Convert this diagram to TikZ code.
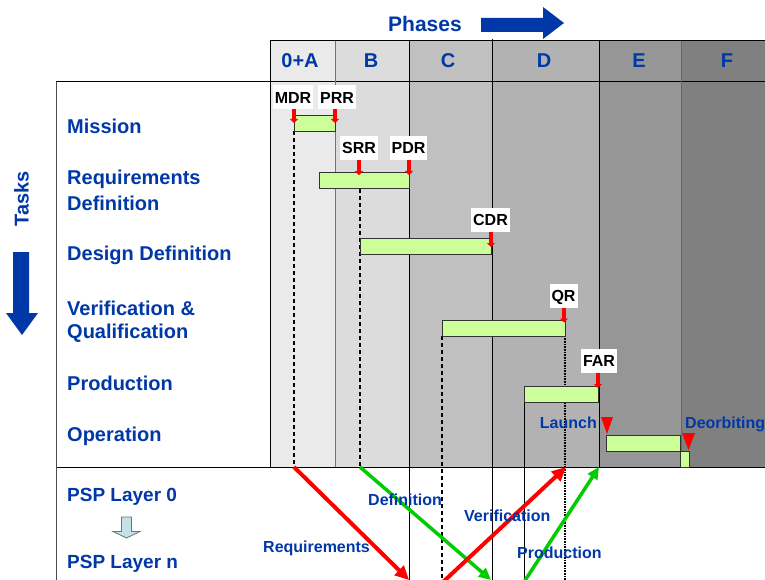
\documentclass[tikz,border=0pt]{standalone}
\usepackage{fontspec}
\setmainfont{Liberation Sans}
\usetikzlibrary{arrows.meta}
\definecolor{esablue}{HTML}{0038A8}
\definecolor{barfill}{HTML}{CCFF99}
\definecolor{flowgreen}{HTML}{00CC00}
\definecolor{pspblue}{HTML}{C2E2E6}
\definecolor{cA}{HTML}{EAEAEA}
\definecolor{cB}{HTML}{DCDCDC}
\definecolor{cC}{HTML}{C0C0C0}
\definecolor{cD}{HTML}{B2B2B2}
\definecolor{cE}{HTML}{969696}
\definecolor{cF}{HTML}{808080}
\begin{document}
\begin{tikzpicture}[x=1pt,y=-1pt,
  lbl/.style={text=esablue, font=\fontsize{20}{24}\selectfont\bfseries, inner sep=0pt, anchor=base west},
  psp/.style={text=esablue, font=\fontsize{19}{23}\selectfont\bfseries, inner sep=0pt, anchor=base west},
  small/.style={text=esablue, font=\fontsize{16}{19}\selectfont\bfseries, inner sep=0pt, anchor=base west},
  phase/.style={text=esablue, font=\fontsize{20}{24}\selectfont\bfseries, inner sep=0pt, anchor=base},
  mstone/.style={fill=white, font=\fontsize{16}{19}\selectfont\bfseries, inner xsep=2pt, inner ysep=0pt, minimum height=24pt, text height=11.5pt, text depth=0pt},
  msarrow/.style={red, line width=3.5pt, -{Triangle[length=4pt,width=8pt]}},
  bar/.style={fill=barfill, draw=black!80, line width=1pt, minimum height=16pt, inner sep=0pt, anchor=north west},
  vline/.style={black, line width=1pt},
  dline/.style={black, line width=1.3pt, dash pattern=on 4pt off 3pt},
  dotline/.style={black, line width=1.2pt, dash pattern=on 1pt off 0.6pt},
  redflow/.style={draw=red, line width=4pt, -{Triangle[length=14pt,width=13pt]}},
  greenflow/.style={draw=flowgreen, line width=3.5pt, -{Triangle[length=12pt,width=11pt]}},
  tri/.style={fill=red}
]
\useasboundingbox (0,0) rectangle (765,580);
\fill[white] (0,0) rectangle (765,580);

% column fills
\fill[cA] (270,41) rectangle (335,467);
\fill[cB] (335,41) rectangle (409,467);
\fill[cC] (409,41) rectangle (492,467);
\fill[cD] (492,41) rectangle (599,467);
\fill[cE] (599,41) rectangle (681,467);
\fill[cF] (681,41) rectangle (765,467);

% frame lines
\draw[vline] (270,41) -- (765,41);
\draw[vline] (56,82) -- (765,82);
\draw[vline] (56,467) -- (765,467);
\draw[black!70, line width=1pt] (56,82) -- (56,580);
\draw[vline] (270,41) -- (270,467);
\draw[black!55, line width=1pt] (335,41) -- (335,467);
\draw[vline] (409,41) -- (409,580);
\draw[vline] (492,39) -- (492,580);
\draw[vline] (599,41) -- (599,467);
\draw[black!60, line width=1pt] (681,41) -- (681,467);

% task dashed / guide lines
\draw[dline] (294,131) -- (294,467);
\draw[dline] (360,189) -- (360,467);
\draw[dline] (442,336) -- (442,580);
\draw[vline] (524,402) -- (524,580);
\draw[dotline] (565,336) -- (565,580);

% phases header
\node[text=esablue, font=\fontsize{21}{24}\selectfont\bfseries, inner sep=0pt, anchor=base west] (phases) at (388,32) {Phases};
\fill[esablue] (481,18) -- (543,18) -- (543,7) -- (564,23) -- (543,39) -- (543,32) -- (481,32) -- cycle;
\node[phase] (p0) at (300,68) {0+A};
\node[phase] (pB) at (371,68) {B};
\node[phase] (pC) at (448,68) {C};
\node[phase] (pD) at (544,68) {D};
\node[phase] (pE) at (639,68) {E};
\node[phase] (pF) at (727,68) {F};

% tasks
\node[text=esablue, font=\fontsize{20}{24}\selectfont\bfseries, inner sep=0pt, rotate=90] (tasks) at (21.5,199) {Tasks};
\fill[esablue] (13,252) -- (29,252) -- (29,313) -- (38,313) -- (22,335) -- (6,313) -- (13,313) -- cycle;

\node[lbl] (t1) at (67,134) {Mission};
\node[lbl] (t2a) at (67,185) {Requirements};
\node[lbl] (t2b) at (67,210) {Definition};
\node[lbl] (t3) at (67,260) {Design Definition};
\node[lbl] (t4a) at (67,315) {Verification \&};
\node[lbl] (t4b) at (67,338) {Qualification};
\node[lbl] (t5) at (67,390) {Production};
\node[lbl] (t6) at (67,441) {Operation};

% bars
\node[bar, minimum width=41pt] (b1) at (294,115) {};
\node[bar, minimum width=90pt] (b2) at (319,172) {};
\node[bar, minimum width=131pt] (b3) at (360,238) {};
\node[bar, minimum width=123pt] (b4) at (442,320) {};
\node[bar, minimum width=74pt] (b5) at (524,386) {};
\node[bar, minimum width=74pt] (b6) at (606,435) {};
\node[bar, minimum width=9pt] (b7) at (680,451) {};

% milestones
\node[mstone] (mdr) at (293,97.5) {MDR};
\node[mstone] (prr) at (337,97.5) {PRR};
\node[mstone] (srr) at (359,148) {SRR};
\node[mstone] (pdr) at (408.5,148) {PDR};
\node[mstone] (cdr) at (490.5,220) {CDR};
\node[mstone] (qr) at (563.5,295.5) {QR};
\node[mstone] (far) at (599,361) {FAR};
\draw[msarrow] (294,109.5) -- (294,123);
\draw[msarrow] (335,109.5) -- (335,123);
\draw[msarrow] (srr.south) -- ++(0,15);
\draw[msarrow] (409,160) -- ++(0,15);
\draw[msarrow] (491,232) -- ++(0,15);
\draw[msarrow] (564,307.5) -- ++(0,15);
\draw[msarrow] (598,373) -- ++(0,15);

% launch / deorbiting
\fill[tri] (601,417) -- (613,417) -- (607,434) -- cycle;
\fill[tri] (682,433) -- (695,433) -- (688.5,450) -- cycle;
\node[small, anchor=base east] (launch) at (597,428) {Launch};
\node[small] (deorb) at (685,428) {Deorbiting};

% bottom flows
\coordinate (rqS) at (294,467);
\coordinate (rqE) at (409,580);
\coordinate (dfS) at (360,467);
\coordinate (dfE) at (491,580);
\coordinate (vfS) at (443,582);
\coordinate (vfE) at (566,467);
\coordinate (prS) at (524,582);
\coordinate (prE) at (599,467);
\draw[redflow] (rqS) -- (rqE);
\draw[greenflow] (dfS) -- (dfE);
\draw[redflow] (vfS) -- (vfE);
\draw[greenflow] (prS) -- (prE);
\node[small] (lreq) at (263,552) {Requirements};
\node[small] (ldef) at (368,505) {Definition};
\node[small] (lver) at (464,521) {Verification};
\node[small] (lpro) at (517,558) {Production};

% PSP layers
\node[psp] (psp0) at (67,501) {PSP Layer 0};
\node[psp] (pspn) at (67,568) {PSP Layer n};
\filldraw[fill=pspblue, draw=black!55, line width=0.8pt] (121.5,517) -- (131.5,517) -- (131.5,531.5) -- (140,531.5) -- (126.5,538) -- (113,531.5) -- (121.5,531.5) -- cycle;
\end{tikzpicture}
\end{document}
